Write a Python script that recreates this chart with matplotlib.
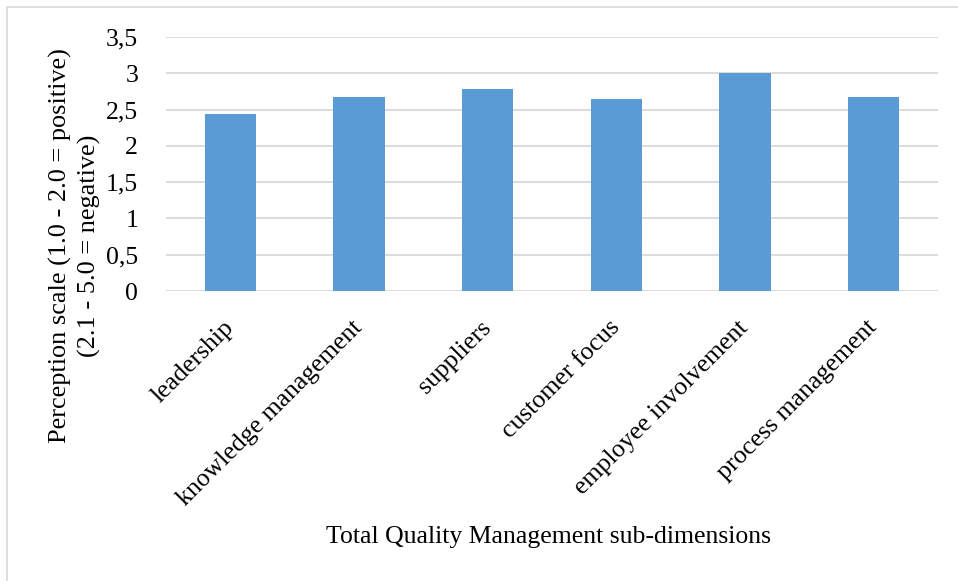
import matplotlib.pyplot as plt
from matplotlib.patches import Rectangle

kategooriad = ["leadership", "knowledge management", "suppliers",
               "customer focus", "employee involvement", "process management"]
vaartused = [2.44, 2.68, 2.78, 2.64, 3.01, 2.68]
y_tikid = [0, 0.5, 1, 1.5, 2, 2.5, 3, 3.5]
y_sildid = ["0", "0,5", "1", "1,5", "2", "2,5", "3", "3,5"]

plt.rcParams["font.family"] = ["Liberation Serif", "DejaVu Serif"]
fs = 18.5

fig = plt.figure(figsize=(9.58, 5.81), dpi=100)
ax = fig.add_axes([166 / 958, 1 - 291 / 581, (938 - 166) / 958, (291 - 37) / 581])

x = range(len(kategooriad))
ax.bar(x, vaartused, width=0.4, color="#5B9BD5", zorder=3)

ax.set_xlim(-0.5, len(kategooriad) - 0.5)
ax.set_ylim(0, 3.5)
ax.set_yticks(y_tikid)
ax.set_yticklabels(y_sildid, fontsize=fs)
ax.set_xticks(list(x))
ax.set_xticklabels(kategooriad, fontsize=fs, rotation=45, ha="right",
                   rotation_mode="anchor", va="center")
ax.tick_params(axis="y", length=0, pad=20)
ax.tick_params(axis="x", length=0, pad=24)

ax.grid(axis="y", color="#D9D9D9", linewidth=1.3, zorder=0)
for s in ax.spines.values():
    s.set_visible(False)

fig.text(75 / 958, 1 - 246 / 581, "Perception scale (1.0 - 2.0 = positive)\n(2.1 - 5.0 = negative)",
         rotation=90, ha="center", va="center", fontsize=18.9, linespacing=1.38)
fig.text(548 / 958, 1 - 537 / 581, "Total Quality Management sub-dimensions",
         ha="center", va="center", fontsize=fs)

# raam ümber graafiku
fig.patches.append(Rectangle((6.5 / 958, -0.1), 1.2, 1.1 - 6.5 / 581,
                             transform=fig.transFigure, fill=False,
                             edgecolor="#D9D9D9", linewidth=1.2))

fig.savefig("out.png", dpi=100)
